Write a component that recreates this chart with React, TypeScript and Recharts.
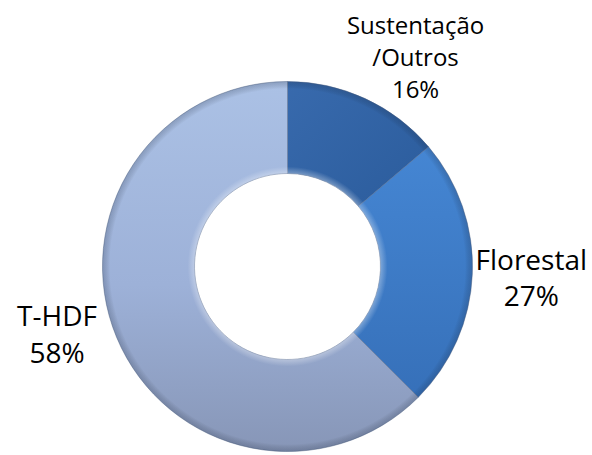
import { Cell, Pie, PieChart } from "recharts";

// slice sizes as drawn (the printed percentages are kept separately)
const categories = ["Sustentação/Outros", "Florestal", "T-HDF"];
const sliceValues = [13.8, 23.7, 62.5];
const labelLines = [["Sustentação", "/Outros"], ["Florestal"], ["T-HDF"]];
const pctLabels = ["16%", "27%", "58%"];

const data = categories.map((name, i) => ({ name, value: sliceValues[i] }));

const gradIds = ["gSust", "gFlor", "gThdf"];
const labelFont = "'Open Sans', Lato, sans-serif";
const labelSize = [24, 28, 28];
const labelLh = [32, 36, 37];
// excel "best fit" pushes labels off the pure mid-angle spot a bit
const labelNudge = [
  [26, 10],
  [1, 1],
  [-6, -26],
];
const RAD = Math.PI / 180;

function SliceLabel(props: any) {
  const { cx, cy, midAngle, index } = props;
  const r = 243;
  const x = cx + r * Math.cos(-midAngle * RAD) + labelNudge[index][0];
  const y = cy + r * Math.sin(-midAngle * RAD) + labelNudge[index][1];
  const lines = [...labelLines[index], pctLabels[index]];
  const lh = labelLh[index];
  const top = y - ((lines.length - 1) * lh) / 2;
  return (
    <text
      x={x}
      y={top}
      textAnchor="middle"
      dominantBaseline="central"
      fill="#000"
      style={{ fontFamily: labelFont, fontSize: labelSize[index] }}
    >
      {lines.map((t, k) => (
        <tspan key={k} x={x} y={top + k * lh}>
          {t}
        </tspan>
      ))}
    </text>
  );
}

export default function App() {
  return (
    <div style={{ position: "fixed", left: 0, top: 0, width: 592, height: 455, background: "#fff" }}>
      <PieChart width={592} height={455} margin={{ top: 0, right: 0, bottom: 0, left: 0 }}>
        <defs>
          <linearGradient id="gSust" x1="0" y1="0" x2="1" y2="1">
            <stop offset="0%" stopColor="#386aad" />
            <stop offset="100%" stopColor="#2b5c9c" />
          </linearGradient>
          <linearGradient id="gFlor" x1="0" y1="0" x2="0" y2="1">
            <stop offset="0%" stopColor="#4586d3" />
            <stop offset="100%" stopColor="#3670b9" />
          </linearGradient>
          <linearGradient id="gThdf" x1="0" y1="0" x2="0" y2="1">
            <stop offset="0%" stopColor="#abc1e5" />
            <stop offset="55%" stopColor="#9db1d8" />
            <stop offset="100%" stopColor="#8796b7" />
          </linearGradient>
          <radialGradient id="bevel" cx="50%" cy="50%" r="50%">
            <stop offset="50%" stopColor="#ffffff" stopOpacity={0.35} />
            <stop offset="54%" stopColor="#ffffff" stopOpacity={0} />
            <stop offset="96%" stopColor="#000000" stopOpacity={0} />
            <stop offset="100%" stopColor="#1a2840" stopOpacity={0.22} />
          </radialGradient>
        </defs>
        <Pie
          data={data}
          dataKey="value"
          nameKey="name"
          cx={287.5}
          cy={266.5}
          innerRadius={93}
          outerRadius={185}
          startAngle={90}
          endAngle={-270}
          stroke="#4f6385"
          strokeOpacity={0.45}
          strokeWidth={1}
          label={SliceLabel}
          labelLine={false}
          isAnimationActive={false}
        >
          {data.map((d, i) => (
            <Cell key={d.name} fill={`url(#${gradIds[i]})`} />
          ))}
        </Pie>
        <Pie
          data={[{ name: "bevel", value: 1 }]}
          dataKey="value"
          cx={287.5}
          cy={266.5}
          innerRadius={93}
          outerRadius={185}
          startAngle={90}
          endAngle={-270}
          stroke="none"
          fill="url(#bevel)"
          isAnimationActive={false}
          style={{ pointerEvents: "none" }}
        />
      </PieChart>
    </div>
  );
}
